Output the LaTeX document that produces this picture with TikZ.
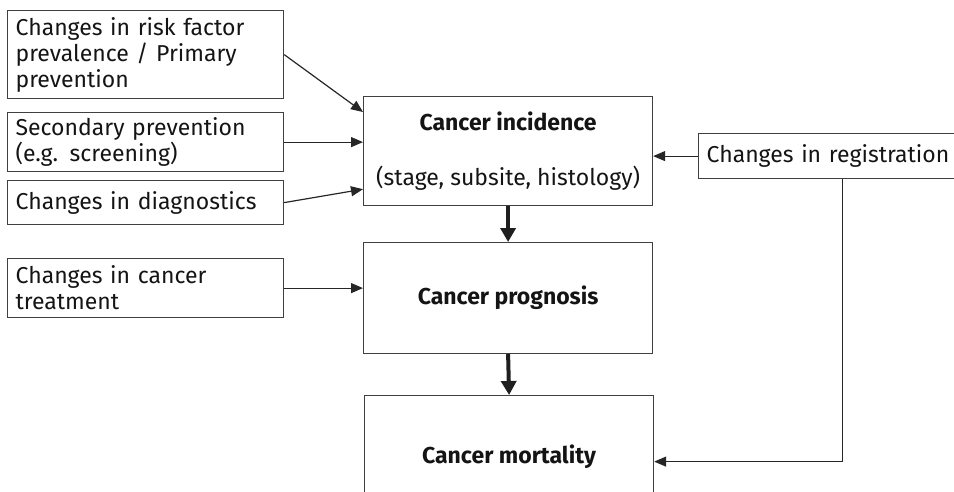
\documentclass[tikz,border=0pt]{standalone}
\usepackage{fontspec}
\setmainfont{Fira Sans}
\usetikzlibrary{arrows.meta,calc}
\begin{document}
\begin{tikzpicture}[x=1pt,y=-1pt,
  line width=1.2pt,
  every node/.style={font=\fontsize{23}{26}\selectfont, text=black!92},
  lbox/.style={draw=black!75, anchor=north west, inner xsep=8pt, inner ysep=0pt, align=left, text width=#1},
  cbox/.style={draw=black!75, anchor=north west, inner sep=0pt, align=center, minimum width=289pt},
  thin/.style={draw=black!85, -{Triangle[length=12pt,width=10pt]}},
  thick/.style={draw=black!88, line width=4pt, -{Triangle[length=14pt,width=15pt]}}
]
\useasboundingbox (0,0) rectangle (954,491);
\clip (0,0) rectangle (954,491);
\node[lbox=260pt, minimum height=88pt] (r1) at (7,10) {Changes in risk factor\\prevalence / Primary\\prevention};
\node[lbox=260pt, minimum height=59pt] (r2) at (7,112) {Secondary prevention\\(e.g. screening)};
\node[lbox=260pt, minimum height=44pt] (r3) at (7,180) {Changes in diagnostics};
\node[lbox=260pt, minimum height=59pt] (tr) at (7,258) {Changes in cancer\\treatment};
\node[cbox, minimum height=109pt] (inc) at (363,96) {\textbf{Cancer incidence}\\[29pt](stage, subsite, histology)};
\node[cbox, minimum height=111pt] (prog) at (363,242) {\textbf{Cancer prognosis}};
\node[cbox, minimum height=122pt] (mort) at (364,395) {\textbf{Cancer mortality}};
\node[lbox=272pt, minimum height=45pt] (reg) at (698,133) {Changes in registration};
\draw[thin] (r1.east) -- ([yshift=-16pt]inc.north west);
\draw[thin] (r2.east) -- (r2.east -| inc.west);
\draw[thin] (r3.east) -- ([yshift=17pt]inc.south west);
\draw[thin] (tr.east) -- (tr.east -| prog.west);
\draw[thin] (reg.west) -- (reg.west -| inc.east);
\coordinate (regdown) at ([yshift=-5pt]mort.east);
\draw[thin] (reg.south) |- (regdown);
\draw[thick] (inc.south) -- (prog.north);
\draw[thick] (prog.south) -- (mort.north);
\end{tikzpicture}
\end{document}
